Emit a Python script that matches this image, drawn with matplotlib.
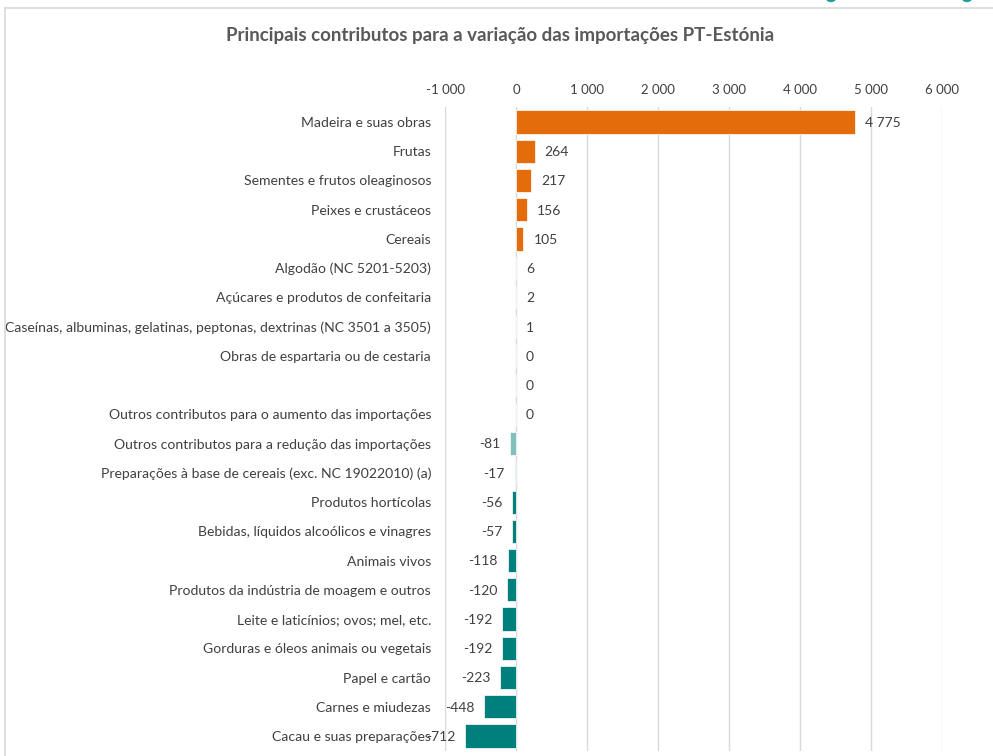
import matplotlib
matplotlib.use("Agg")
import matplotlib.pyplot as plt
from matplotlib.patches import Ellipse
from matplotlib.lines import Line2D

plt.rcParams['font.family'] = ['Lato', 'DejaVu Sans']

categories = [
    "Madeira e suas obras",
    "Frutas",
    "Sementes e frutos oleaginosos",
    "Peixes e crustáceos",
    "Cereais",
    "Algodão (NC 5201-5203)",
    "Açúcares e produtos de confeitaria",
    "Caseínas, albuminas, gelatinas, peptonas, dextrinas (NC 3501 a 3505)",
    "Obras de espartaria ou de cestaria",
    "",
    "Outros contributos para o aumento das importações",
    "Outros contributos para a redução das importações",
    "Preparações à base de cereais (exc. NC 19022010) (a)",
    "Produtos hortícolas",
    "Bebidas, líquidos alcoólicos e vinagres",
    "Animais vivos",
    "Produtos da indústria de moagem e outros",
    "Leite e laticínios; ovos; mel, etc.",
    "Gorduras e óleos animais ou vegetais",
    "Papel e cartão",
    "Carnes e miudezas",
    "Cacau e suas preparações",
]
values = [4775, 264, 217, 156, 105, 6, 2, 1, 0, 0, 0,
          -81, -17, -56, -57, -118, -120, -192, -192, -223, -448, -712]
x_ticks = [-1000, 0, 1000, 2000, 3000, 4000, 5000, 6000]
title = "Principais contributos para a variação das importações PT-Estónia"

ORANGE = "#e46c0a"
TEAL = "#00807c"
LIGHT_TEAL = "#7fc0bd"
TXT = "#404040"

def fmt(v):
    return f"{v:,}".replace(",", " ")

W, H = 993, 756
fig = plt.figure(figsize=(W / 100, H / 100), dpi=100)

# frame of the chart area (cut off at right and bottom)
fig.add_artist(Line2D([5 / W, 1], [1 - 8 / H, 1 - 8 / H], color="#d9d9d9", lw=1.2))
fig.add_artist(Line2D([5 / W, 5 / W], [0, 1 - 8 / H], color="#d9d9d9", lw=1.2))
# bits of a logo peeking in at the top
for cx in (831, 967):
    fig.add_artist(Ellipse((cx / W, 1 + 4 / H), 11 / W, 11 / H, color="#1a9e96"))

ax = fig.add_axes([445 / W, 1 - 750.6 / H, 497 / W, (750.6 - 107.4) / H])

colors = []
for c, v in zip(categories, values):
    if c.startswith("Outros contributos para a redução") or c.startswith("Preparações à base"):
        colors.append(LIGHT_TEAL)
    elif v < 0:
        colors.append(TEAL)
    else:
        colors.append(ORANGE)

ypos = list(range(len(categories)))
ax.barh(ypos, values, height=0.79, color=colors, edgecolor="white", linewidth=0.5, zorder=3)

ax.set_xlim(x_ticks[0], x_ticks[-1])
ax.set_ylim(len(categories) - 0.5, -0.5)
ax.set_xticks(x_ticks)
ax.set_xticklabels([fmt(t) for t in x_ticks], fontsize=9.5, color=TXT)
ax.xaxis.tick_top()
ax.tick_params(axis="x", length=0, pad=8.5)
ax.set_yticks(ypos)
ax.set_yticklabels(categories, fontsize=10.1, color=TXT)
ax.tick_params(axis="y", length=0, pad=10)
ax.grid(axis="x", color="#d9d9d9", lw=1, zorder=0)
for s in ax.spines.values():
    s.set_visible(False)

# data labels, offset about 10 px from the bar end
px = (x_ticks[-1] - x_ticks[0]) / 497
for y, v in zip(ypos, values):
    if v < 0:
        ax.text(v - 10 * px, y + 0.03, fmt(v), ha="right", va="center", fontsize=10, color=TXT, zorder=4)
    else:
        ax.text(v + 10 * px, y + 0.03, fmt(v), ha="left", va="center", fontsize=10, color=TXT, zorder=4)

fig.text(500 / W, 1 - 35 / H, title, ha="center", va="center",
         fontsize=13.5, fontweight="bold", color="#595959")

fig.savefig("out.png", dpi=100)
